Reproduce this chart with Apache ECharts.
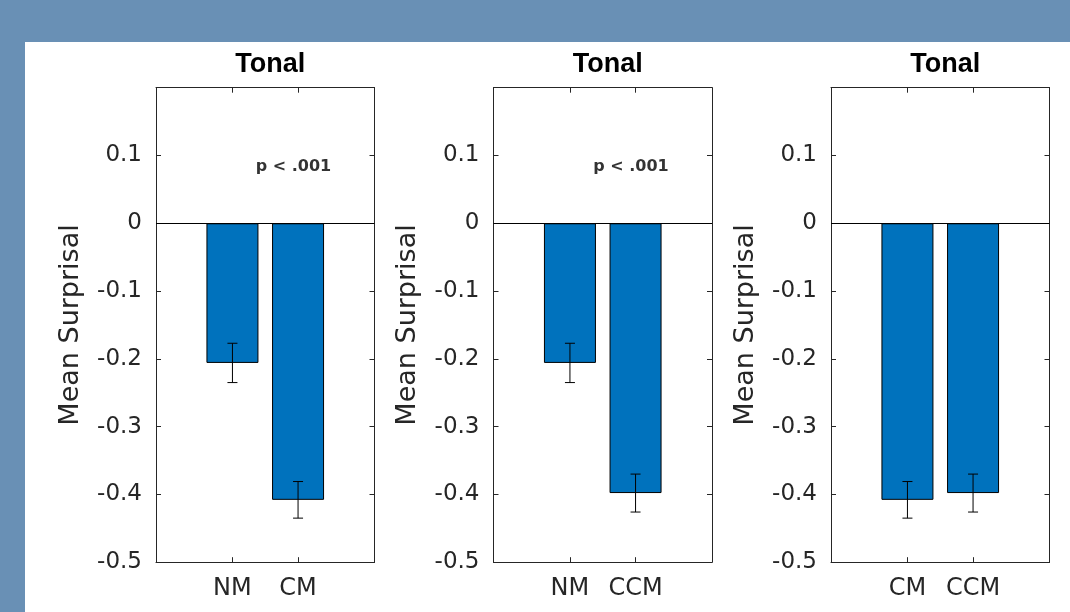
<!DOCTYPE html>
<html>
<head>
<meta charset="utf-8">
<script src="https://cdn.jsdelivr.net/npm/echarts@6/dist/echarts.min.js"></script>
<style>
html,body{margin:0;padding:0;background:#6990b5;}
#chart{width:1070px;height:612px;}
</style>
</head>
<body>
<div id="chart"></div>
<script>
// ---- data ----
const titles = ['Tonal', 'Tonal', 'Tonal'];
const categories = [['NM', 'CM'], ['NM', 'CCM'], ['CM', 'CCM']];
const means = [[-0.206, -0.408], [-0.206, -0.398], [-0.408, -0.398]];
const errors = [[0.029, 0.027], [0.029, 0.028], [0.027, 0.028]];
const pLabels = ['p < .001', 'p < .001', ''];
const pAnchor = [1.93, 0.083];           // annotation position in data units
const yAxisLabel = 'Mean Surprisal';
const yMin = -0.5, yMax = 0.2, yStep = 0.1;
const xPositions = [1, 2];

// ---- layout / style ----
const gridLefts = [156, 493.5, 831];
const gridW = 218.5, gridTop = 87.7, gridH = 474.5;
const axisColor = '#262626';
const barColor = '#0072bd';
const tickFont = 'DejaVu Sans';

const chart = echarts.init(document.getElementById('chart'), null, {renderer: 'canvas'});

const grids = [], xAxes = [], yAxes = [], series = [], titleOpts = [];
for (let i = 0; i < 3; i++) {
  grids.push({left: gridLefts[i], top: gridTop, width: gridW, height: gridH, containLabel: false});
  const cats = categories[i];
  const xCommon = {
    type: 'value', gridIndex: i, min: -0.165, max: 3.165,
    splitLine: {show: false},
    axisLine: {show: true, onZero: false, lineStyle: {color: axisColor, width: 1}},
    axisTick: {show: true, inside: true, length: 5, customValues: xPositions, lineStyle: {color: axisColor}}
  };
  xAxes.push(Object.assign({}, xCommon, {
    position: 'bottom',
    axisLabel: {show: true, customValues: xPositions, margin: 15,
      formatter: v => cats[Math.round(v) - 1] || '',
      fontFamily: tickFont, fontSize: 24, color: axisColor}
  }));
  xAxes.push(Object.assign({}, xCommon, {position: 'top', axisLabel: {show: false}}));
  const yCommon = {
    type: 'value', gridIndex: i, min: yMin, max: yMax, interval: yStep,
    splitLine: {show: false},
    axisLine: {show: true, onZero: false, lineStyle: {color: axisColor, width: 1}},
    axisTick: {show: true, inside: true, length: 5, lineStyle: {color: axisColor}}
  };
  yAxes.push(Object.assign({}, yCommon, {
    position: 'left',
    name: yAxisLabel, nameLocation: 'middle', nameGap: 72,
    nameTextStyle: {fontFamily: tickFont, fontSize: 27, color: axisColor},
    axisLabel: {show: true, margin: 14, fontFamily: tickFont, fontSize: 23, color: axisColor,
      formatter: v => (v > 0.15 ? '' : (Math.abs(v) < 1e-9 ? '0' : String(+v.toFixed(1))))}
  }));
  yAxes.push(Object.assign({}, yCommon, {position: 'right', axisLabel: {show: false}}));

  const xi = i * 2, yi = i * 2;
  series.push({
    type: 'bar', xAxisIndex: xi, yAxisIndex: yi,
    barWidth: 52,
    data: xPositions.map((x, k) => [x, means[i][k]]),
    itemStyle: {color: barColor, borderColor: '#000', borderWidth: 1},
    markLine: {silent: true, symbol: 'none', label: {show: false},
      lineStyle: {color: '#000', width: 1, type: 'solid'},
      data: [{yAxis: 0}], animation: false},
    animation: false
  });
  series.push({
    type: 'custom', xAxisIndex: xi, yAxisIndex: yi,
    data: xPositions.map((x, k) => [x, means[i][k], errors[i][k]]),
    renderItem: function (params, api) {
      const x = api.value(0), m = api.value(1), e = api.value(2);
      const p1 = api.coord([x, m + e]);
      const p2 = api.coord([x, m - e]);
      const hw = 5;
      const st = {stroke: '#000', lineWidth: 1};
      return {type: 'group', children: [
        {type: 'line', shape: {x1: p1[0], y1: p1[1], x2: p2[0], y2: p2[1]}, style: st},
        {type: 'line', shape: {x1: p1[0] - hw, y1: p1[1], x2: p1[0] + hw, y2: p1[1]}, style: st},
        {type: 'line', shape: {x1: p2[0] - hw, y1: p2[1], x2: p2[0] + hw, y2: p2[1]}, style: st}
      ]};
    },
    z: 5, animation: false
  });
  if (pLabels[i]) {
    series.push({
      type: 'scatter', xAxisIndex: xi, yAxisIndex: yi,
      symbolSize: 0, silent: true,
      data: [pAnchor],
      label: {show: true, position: 'inside', formatter: pLabels[i],
        fontFamily: tickFont, fontWeight: 'bold', fontSize: 16, color: '#000'},
      animation: false
    });
  }
  titleOpts.push({
    text: titles[i], left: gridLefts[i] + gridW / 2, top: 46, textAlign: 'center',
    textStyle: {fontFamily: 'Liberation Sans', fontWeight: 'bold', fontSize: 27, color: '#000'}
  });
}

chart.setOption({
  backgroundColor: '#6990b5',
  animation: false,
  graphic: [{type: 'rect', shape: {x: 25, y: 42, width: 1045, height: 570},
    style: {fill: '#ffffff'}, z: -100, silent: true}],
  title: titleOpts,
  grid: grids,
  xAxis: xAxes,
  yAxis: yAxes,
  series: series
});
</script>
</body>
</html>
